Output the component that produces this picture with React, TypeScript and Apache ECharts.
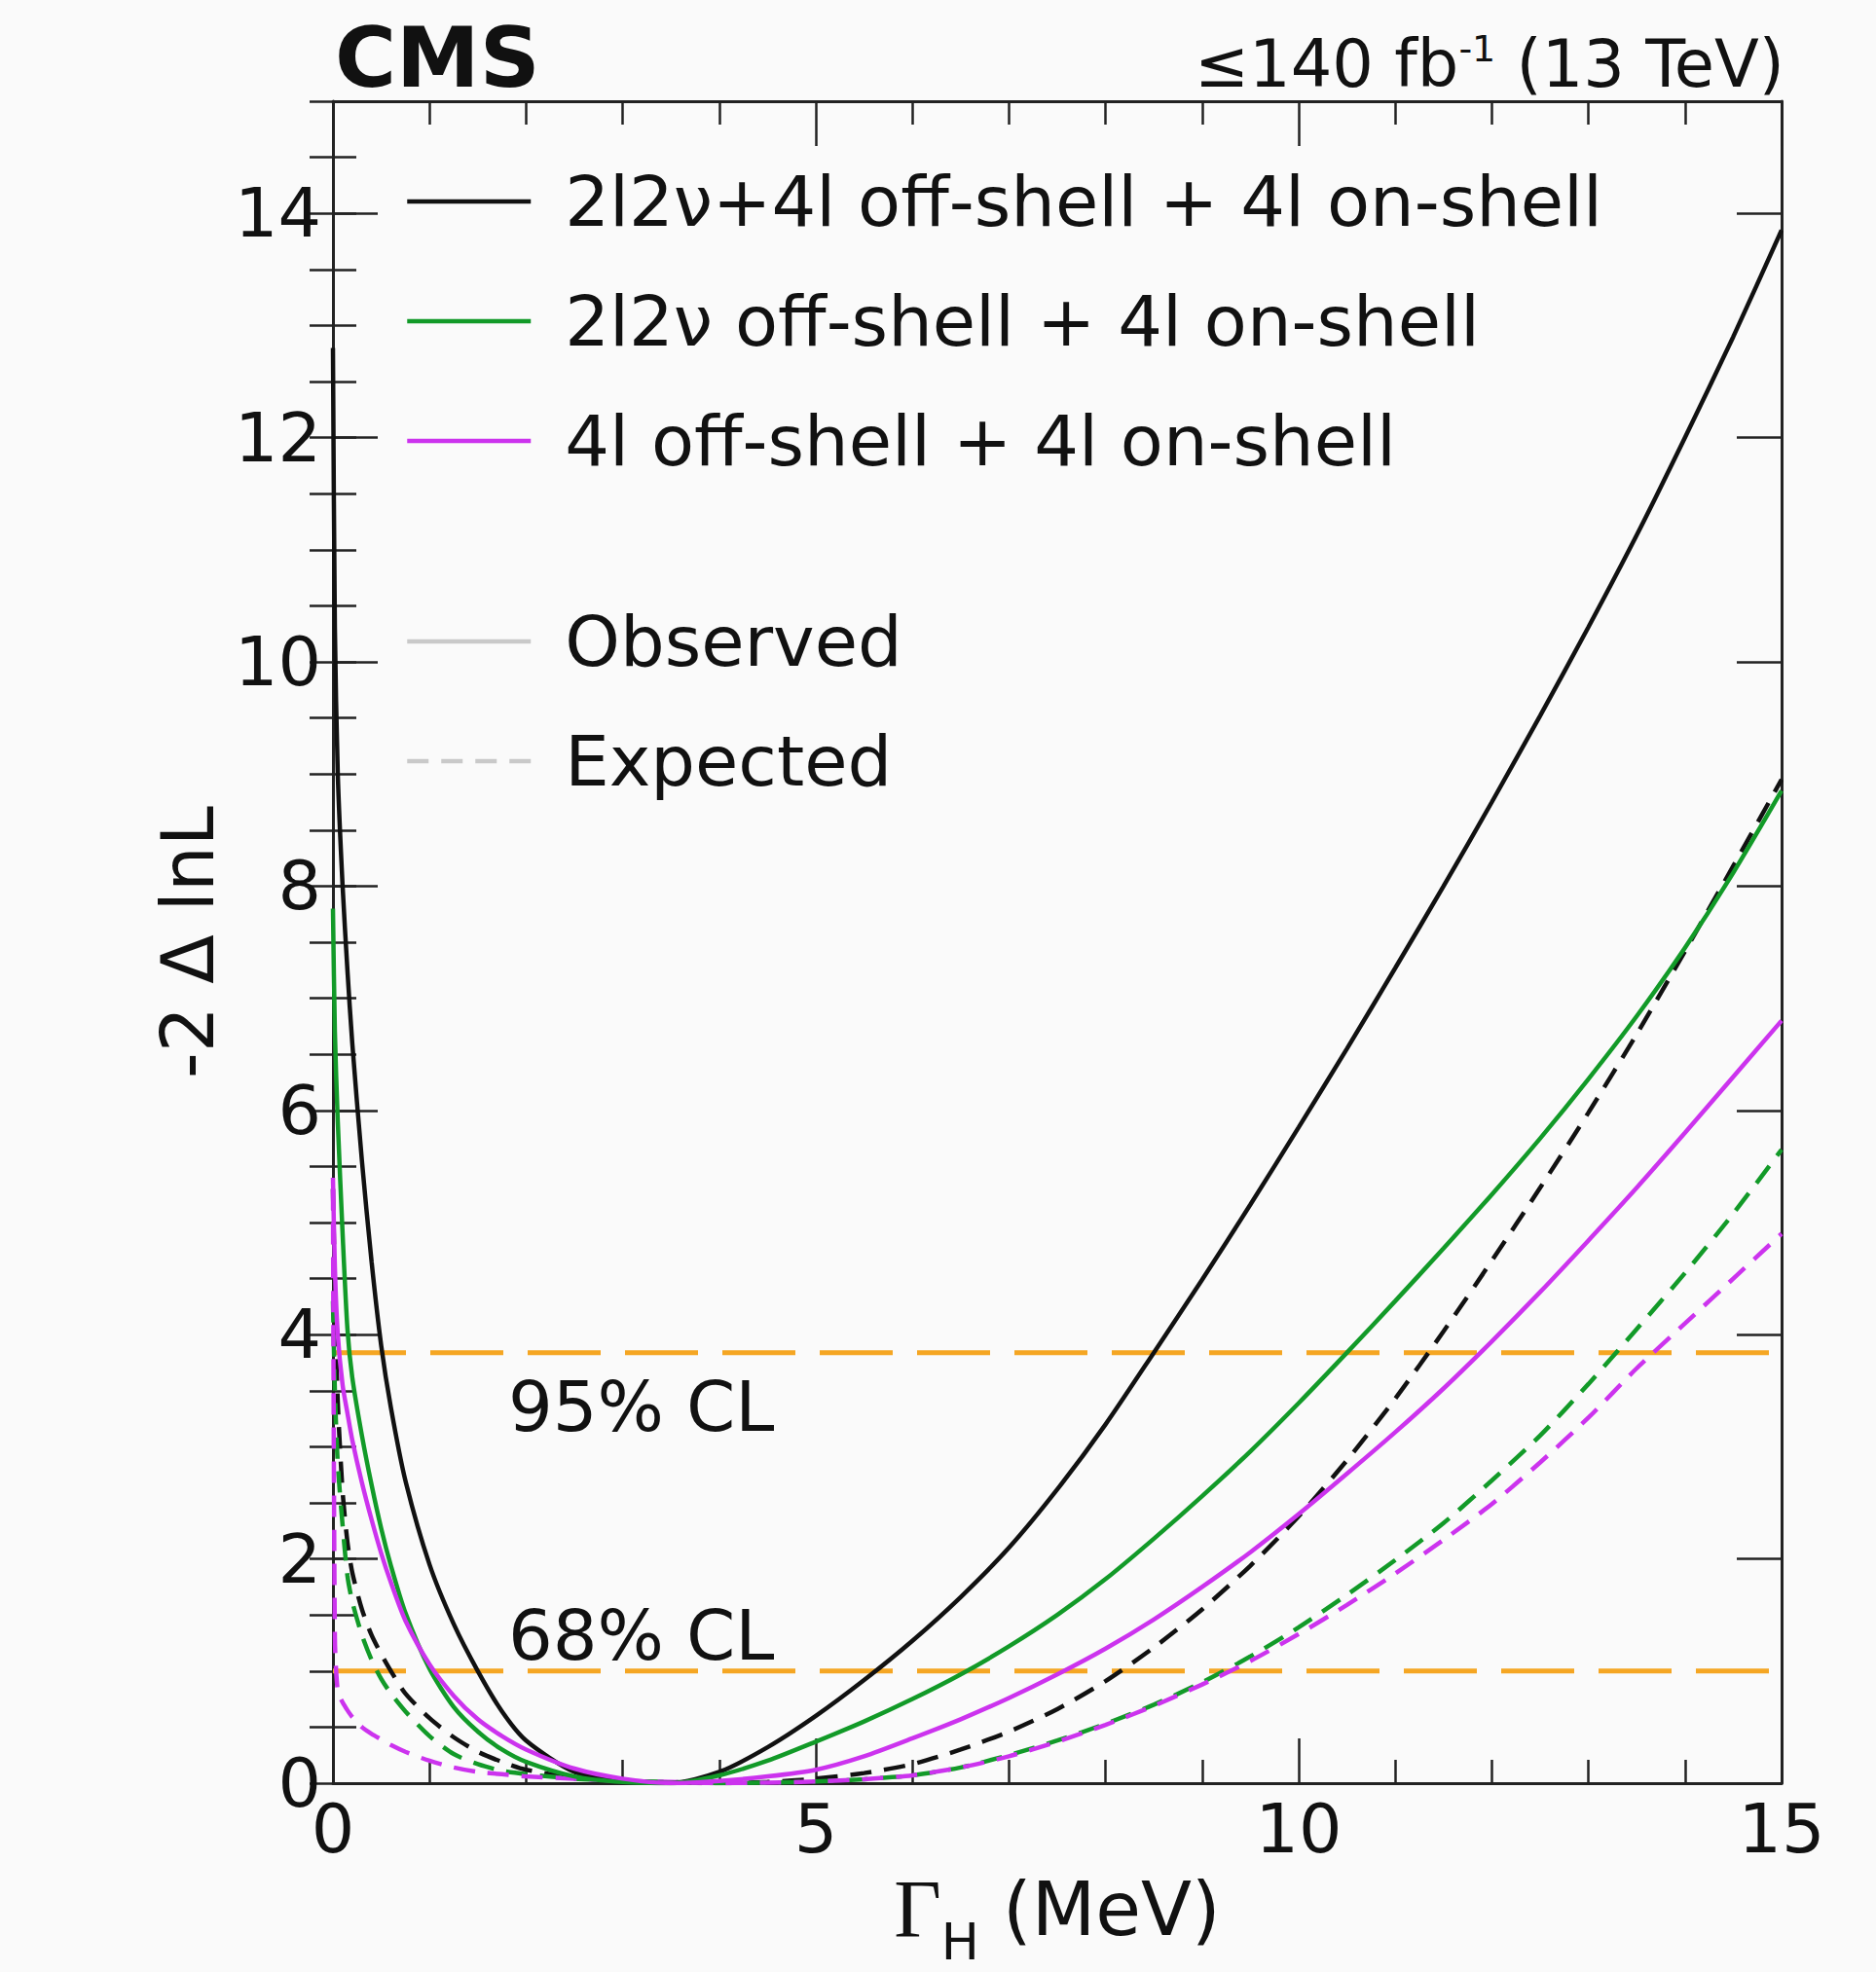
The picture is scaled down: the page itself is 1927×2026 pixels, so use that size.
import React, { useEffect, useRef } from "react";
import * as echarts from "echarts";

// Γ_H grid (MeV) shared by all curves
const GAMMA = [0, 0.02, 0.05, 0.1, 0.15, 0.2, 0.3, 0.4, 0.5, 0.6, 0.75, 1.0, 1.25, 1.5, 1.75, 2.0, 2.5, 3.0, 3.5, 4.0, 4.5, 5.0, 5.5, 6, 6.5, 7, 7.5, 8, 8.5, 9, 9.5, 10, 10.5, 11, 11.5, 12, 12.5, 13, 13.5, 14, 14.5, 15];

// Observed -2ΔlnL
const OBS_COMB = [12.8, 10.3, 9.0, 8.0, 7.25, 6.6, 5.55, 4.65, 3.9, 3.35, 2.7, 1.95, 1.42, 1.0, 0.64, 0.38, 0.1, 0.02, 0, 0.1, 0.32, 0.6, 0.92, 1.27, 1.66, 2.1, 2.62, 3.2, 3.84, 4.49, 5.16, 5.85, 6.55, 7.27, 8.0, 8.75, 9.52, 10.31, 11.13, 12.0, 12.9, 13.85];
const OBS_2L2NU = [7.8, 6.7, 5.9, 4.9, 4.05, 3.62, 3.1, 2.66, 2.27, 1.94, 1.52, 1.02, 0.68, 0.46, 0.3, 0.19, 0.06, 0.01, 0, 0.07, 0.2, 0.37, 0.55, 0.75, 0.97, 1.22, 1.5, 1.82, 2.18, 2.56, 2.96, 3.39, 3.84, 4.3, 4.77, 5.25, 5.75, 6.28, 6.84, 7.45, 8.12, 8.85];
const OBS_4L = [5.4, 4.6, 4.0, 3.55, 3.3, 3.06, 2.68, 2.35, 2.05, 1.79, 1.45, 1.06, 0.78, 0.57, 0.42, 0.3, 0.13, 0.04, 0, 0.02, 0.06, 0.12, 0.24, 0.4, 0.57, 0.76, 0.97, 1.2, 1.46, 1.75, 2.06, 2.4, 2.76, 3.13, 3.52, 3.94, 4.38, 4.84, 5.31, 5.8, 6.3, 6.8];

// Expected -2ΔlnL
const EXP_COMB = [5.3, 4.4, 3.4, 2.6, 2.15, 1.88, 1.55, 1.32, 1.15, 1.0, 0.8, 0.58, 0.41, 0.28, 0.19, 0.12, 0.05, 0.02, 0.005, 0, 0.01, 0.04, 0.09, 0.17, 0.3, 0.46, 0.66, 0.91, 1.21, 1.55, 1.94, 2.38, 2.88, 3.43, 4.03, 4.66, 5.31, 5.98, 6.68, 7.42, 8.18, 8.95];
const EXP_2L2NU = [4.3, 3.5, 2.85, 2.3, 1.85, 1.62, 1.32, 1.1, 0.93, 0.8, 0.64, 0.42, 0.26, 0.17, 0.11, 0.08, 0.04, 0.02, 0.01, 0, 0.005, 0.015, 0.035, 0.07, 0.14, 0.25, 0.38, 0.53, 0.7, 0.9, 1.13, 1.39, 1.68, 1.99, 2.32, 2.7, 3.1, 3.56, 4.05, 4.55, 5.08, 5.65];
const EXP_4L = [5.3, 1.3, 0.82, 0.72, 0.65, 0.59, 0.5, 0.44, 0.39, 0.34, 0.28, 0.2, 0.14, 0.1, 0.08, 0.06, 0.04, 0.02, 0.01, 0, 0.005, 0.015, 0.035, 0.07, 0.14, 0.24, 0.37, 0.52, 0.69, 0.88, 1.09, 1.33, 1.59, 1.87, 2.17, 2.49, 2.86, 3.26, 3.7, 4.1, 4.5, 4.9];

// Confidence-level thresholds
const CL_LEVELS = [3.84, 1.0];
const CL_LABELS = ["95% CL", "68% CL"];

// Legend / series names
const CHANNELS = ["2l2ν+4l off-shell + 4l on-shell", "2l2ν off-shell + 4l on-shell", "4l off-shell + 4l on-shell"];
const STYLE_NAMES = ["Observed", "Expected"];

// Axis ranges
const X_RANGE = [0, 15];
const Y_RANGE = [0, 15];

const FONT = '"DejaVu Sans", sans-serif';
const INK = "#111";
const FRAME = "#222";
const COLORS = ["#111111", "#129a28", "#cc33ee"];
const ORANGE = "#f5a623";
const GRAY = "#c9c9c9";
const DASH = [22, 13];
const LW = 4.5;

export default function App() {
  const ref = useRef<HTMLDivElement>(null);

  useEffect(() => {
    document.body.style.margin = "0";
    const chart = echarts.init(ref.current!, null, { renderer: "svg" });

    const toPairs = (vals: number[]) => GAMMA.map((g, i) => [g, vals[i]]);
    const curve = (name: string, vals: number[], color: string, dashed: boolean) => ({
      type: "line",
      name,
      data: toPairs(vals),
      symbol: "none",
      showSymbol: false,
      silent: true,
      smooth: 0.25,
      z: 3,
      lineStyle: { color, width: LW, type: dashed ? DASH : "solid", cap: "butt" },
      itemStyle: { color },
    });

    const clSeries = CL_LEVELS.map((lvl, i) => ({
      type: "line",
      name: CL_LABELS[i],
      data: [
        [X_RANGE[0], lvl],
        [X_RANGE[1], lvl],
      ],
      symbol: "none",
      silent: true,
      z: 1,
      lineStyle: { color: ORANGE, width: 5, type: [75, 25], cap: "butt" },
      itemStyle: { color: ORANGE },
    }));

    const dummy = (name: string, dashed: boolean) => ({
      type: "line",
      name,
      data: [],
      symbol: "none",
      silent: true,
      lineStyle: { color: GRAY, width: LW, type: dashed ? DASH : "solid" },
      itemStyle: { color: GRAY },
    });

    const tickStyle = { color: FRAME, width: 2.5 };
    const axisLine = { show: true, onZero: false, lineStyle: { color: FRAME, width: 3 } };

    const baseX = {
      type: "value",
      min: X_RANGE[0],
      max: X_RANGE[1],
      interval: 5,
      axisLine,
      axisTick: { show: true, inside: true, length: 46, lineStyle: tickStyle },
      minorTick: { show: true, splitNumber: 5, length: 24, lineStyle: tickStyle },
      splitLine: { show: false },
      minorSplitLine: { show: false },
    };

    const majorY = {
      type: "value",
      min: Y_RANGE[0],
      max: Y_RANGE[1],
      interval: 2,
      axisLine,
      axisTick: { show: true, inside: true, length: 46, lineStyle: tickStyle },
      splitLine: { show: false },
    };
    const minorY = {
      type: "value",
      min: Y_RANGE[0],
      max: Y_RANGE[1],
      interval: 0.5,
      axisLine: { show: false },
      axisTick: { show: true, inside: true, length: 24, lineStyle: tickStyle },
      axisLabel: { show: false },
      splitLine: { show: false },
    };

    const legendCommon = {
      orient: "vertical",
      left: 416,
      padding: 0,
      itemWidth: 127,
      itemHeight: 4,
      itemGap: 43,
      selectedMode: false,
      lineStyle: { width: LW },
      itemStyle: { opacity: 0 },
      textStyle: { fontSize: 72, fontFamily: FONT, color: INK, lineHeight: 80, padding: [0, 0, 0, 30] },
    };

    const option = {
      animation: false,
      backgroundColor: "#fafafa",
      grid: { left: 342, top: 104, width: 1488, height: 1732, containLabel: false },
      legend: [
        { ...legendCommon, top: 167, data: CHANNELS },
        { ...legendCommon, top: 619, data: STYLE_NAMES },
      ],
      xAxis: [
        {
          ...baseX,
          position: "bottom",
          axisLabel: { show: true, fontSize: 70, fontFamily: FONT, color: INK, margin: 12 },
          name: "{g|Γ}{s|H}{m| (MeV)}",
          nameLocation: "middle",
          nameGap: 69,
          nameTextStyle: {
            rich: {
              g: { fontFamily: '"Liberation Serif", serif', fontSize: 84, lineHeight: 120, color: INK },
              s: { fontFamily: FONT, fontSize: 52, lineHeight: 52, verticalAlign: "bottom", color: INK },
              m: { fontFamily: FONT, fontSize: 76, lineHeight: 120, color: INK },
            },
          },
        },
        { ...baseX, position: "top", axisLabel: { show: false } },
      ],
      yAxis: [
        {
          ...majorY,
          position: "left",
          axisLabel: {
            show: true,
            fontSize: 70,
            fontFamily: FONT,
            color: INK,
            margin: 12,
            formatter: (v: number) => (v === Y_RANGE[1] ? "" : String(v)),
          },
          name: "-2 Δ lnL",
          nameLocation: "middle",
          nameRotate: 90,
          nameGap: 112,
          nameTextStyle: { fontSize: 74, fontFamily: FONT, color: INK },
        },
        { ...minorY, position: "left" },
        { ...majorY, position: "right", axisLabel: { show: false } },
        { ...minorY, position: "right" },
      ],
      series: [
        ...clSeries,
        curve(CHANNELS[0] + " (exp)", EXP_COMB, COLORS[0], true),
        curve(CHANNELS[1] + " (exp)", EXP_2L2NU, COLORS[1], true),
        curve(CHANNELS[2] + " (exp)", EXP_4L, COLORS[2], true),
        curve(CHANNELS[0], OBS_COMB, COLORS[0], false),
        curve(CHANNELS[1], OBS_2L2NU, COLORS[1], false),
        curve(CHANNELS[2], OBS_4L, COLORS[2], false),
        dummy(STYLE_NAMES[0], false),
        dummy(STYLE_NAMES[1], true),
      ],
      graphic: [
        {
          type: "text",
          x: 344,
          y: 59,
          style: { text: "CMS", font: `bold 86px ${FONT}`, fill: INK, align: "left", verticalAlign: "middle" },
        },
        {
          type: "text",
          x: 1833,
          y: 66,
          style: {
            text: "{m|≤140 fb}{s|-1}{m| (13 TeV)}",
            align: "right",
            verticalAlign: "middle",
            fill: INK,
            rich: {
              m: { fontFamily: FONT, fontSize: 67, lineHeight: 70, fill: INK },
              s: { fontFamily: FONT, fontSize: 38, lineHeight: 40, verticalAlign: "top", fill: INK },
            },
          },
        },
        {
          type: "text",
          x: 522,
          y: 1445,
          style: { text: CL_LABELS[0], font: `72px ${FONT}`, fill: INK, align: "left", verticalAlign: "middle" },
        },
        {
          type: "text",
          x: 522,
          y: 1680,
          style: { text: CL_LABELS[1], font: `72px ${FONT}`, fill: INK, align: "left", verticalAlign: "middle" },
        },
      ],
    };

    chart.setOption(option as any);
    return () => chart.dispose();
  }, []);

  return <div ref={ref} style={{ width: 1927, height: 2026, background: "#fafafa" }} />;
}
